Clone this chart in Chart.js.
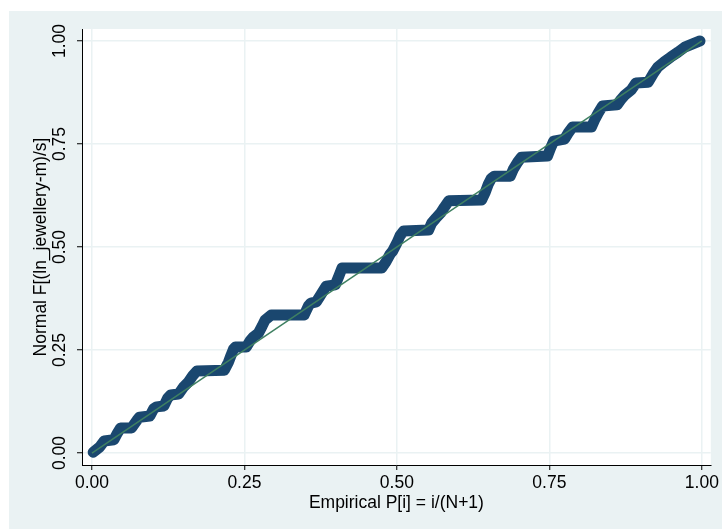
<!DOCTYPE html>
<html>
<head>
<meta charset="utf-8">
<script src="https://cdn.jsdelivr.net/npm/chart.js@4.4.1/dist/chart.umd.min.js"></script>
<style>
  html, body { margin: 0; padding: 0; background: #fff; }
  canvas { display: block; }
</style>
</head>
<body>
<canvas id="pnormChart" width="722" height="529"></canvas>
<script>
// Empirical P[i] = i/(N+1) vs Normal F[(ln_jewellery-m)/s]
const empiricalP = [
    0.002, 0.013, 0.020, 0.036, 0.042, 0.047, 0.065, 0.074, 0.078, 0.095,
    0.101, 0.106, 0.118, 0.124, 0.129, 0.142, 0.150, 0.158, 0.165, 0.172,
    0.217, 0.224, 0.227, 0.232, 0.235, 0.253, 0.260, 0.265, 0.273, 0.279,
    0.284, 0.294, 0.348, 0.355, 0.359, 0.368, 0.374, 0.381, 0.384, 0.399,
    0.405, 0.410, 0.475, 0.482, 0.489, 0.493, 0.500, 0.505, 0.511, 0.552,
    0.557, 0.564, 0.572, 0.578, 0.585, 0.639, 0.645, 0.650, 0.655, 0.660,
    0.686, 0.691, 0.698, 0.704, 0.747, 0.752, 0.757, 0.775, 0.781, 0.788,
    0.819, 0.825, 0.830, 0.837, 0.861, 0.868, 0.874, 0.884, 0.892, 0.912,
    0.920, 0.928, 0.938, 0.949, 0.961, 0.972, 0.985, 0.997
];
const normalF = [
    0.002, 0.015, 0.029, 0.032, 0.049, 0.061, 0.061, 0.080, 0.087, 0.090,
    0.107, 0.112, 0.114, 0.133, 0.141, 0.143, 0.160, 0.172, 0.187, 0.199,
    0.201, 0.221, 0.233, 0.252, 0.257, 0.257, 0.274, 0.282, 0.291, 0.308,
    0.323, 0.335, 0.335, 0.357, 0.364, 0.367, 0.381, 0.398, 0.405, 0.408,
    0.430, 0.449, 0.449, 0.464, 0.483, 0.490, 0.510, 0.527, 0.539, 0.541,
    0.558, 0.570, 0.583, 0.597, 0.612, 0.614, 0.633, 0.653, 0.667, 0.672,
    0.672, 0.689, 0.706, 0.718, 0.721, 0.740, 0.757, 0.762, 0.777, 0.791,
    0.791, 0.811, 0.825, 0.842, 0.845, 0.859, 0.869, 0.881, 0.898, 0.900,
    0.920, 0.937, 0.949, 0.961, 0.973, 0.985, 0.993, 1.000
];
// 45-degree reference line
const refX = [0, 1];
const refY = [0, 1];
const tickValues = [0, 0.25, 0.5, 0.75, 1];

const bgColor = '#EAF2F3';
const markColor = '#1A476F';
const refColor = '#3F8062';

const stataBackground = {
    id: 'stataBackground',
    beforeDraw(chart) {
        const { ctx, chartArea } = chart;
        ctx.save();
        ctx.fillStyle = '#ffffff';
        ctx.fillRect(0, 0, chart.width, chart.height);
        ctx.fillStyle = bgColor;
        ctx.fillRect(9, 11, chart.width - 9, chart.height - 11);
        ctx.fillStyle = '#ffffff';
        ctx.fillRect(chartArea.left, chartArea.top, chartArea.right - chartArea.left, chartArea.bottom - chartArea.top);
        ctx.restore();
    }
};

const font = { family: "'Liberation Sans', Arial, sans-serif", size: 17.5 };

new Chart(document.getElementById('pnormChart'), {
    type: 'scatter',
    data: {
        datasets: [{
            label: 'reference',
            data: refX.map((x, i) => ({ x: x, y: refY[i] })),
            showLine: true,
            borderColor: refColor,
            borderWidth: 1.5,
            pointRadius: 0,
            order: 0
        }, {
            label: 'pnorm',
            data: empiricalP.map((x, i) => ({ x: x, y: normalF[i] })),
            showLine: true,
            borderColor: markColor,
            backgroundColor: markColor,
            borderWidth: 11,
            borderJoinStyle: 'round',
            borderCapStyle: 'round',
            pointRadius: 0,
            tension: 0,
            order: 1
        }]
    },
    options: {
        responsive: false,
        animation: false,
        layout: { padding: { left: 0, right: 9, top: 29, bottom: 0 } },
        plugins: {
            legend: { display: false },
            tooltip: { enabled: false }
        },
        scales: {
            x: {
                type: 'linear',
                min: -0.0163,
                max: 1.0147,
                afterBuildTicks: s => { s.ticks = tickValues.map(v => ({ value: v })); },
                afterFit: s => { s.height = 64; },
                ticks: {
                    font: font,
                    color: '#000',
                    padding: 3,
                    maxRotation: 0,
                    callback: v => v.toFixed(2)
                },
                grid: { color: bgColor, lineWidth: 1.5, tickLength: 5, tickColor: '#000', tickWidth: 1 },
                border: { color: '#000', width: 1 },
                title: {
                    display: true,
                    text: 'Empirical P[i] = i/(N+1)',
                    font: font,
                    color: '#000',
                    padding: { top: 0, bottom: 15 }
                }
            },
            y: {
                type: 'linear',
                min: -0.0291,
                max: 1.0291,
                afterBuildTicks: s => { s.ticks = tickValues.map(v => ({ value: v })); },
                afterFit: s => { s.width = 82; },
                ticks: {
                    font: font,
                    color: '#000',
                    padding: 0,
                    minRotation: 90,
                    maxRotation: 90,
                    crossAlign: 'center',
                    callback: v => v.toFixed(2)
                },
                grid: { color: bgColor, lineWidth: 1.5, tickLength: 5, tickColor: '#000', tickWidth: 1 },
                border: { color: '#000', width: 1 },
                title: {
                    display: true,
                    text: 'Normal F[(ln_jewellery-m)/s]',
                    font: font,
                    color: '#000',
                    padding: { top: 31, bottom: 0 }
                }
            }
        }
    },
    plugins: [stataBackground]
});
</script>
</body>
</html>
